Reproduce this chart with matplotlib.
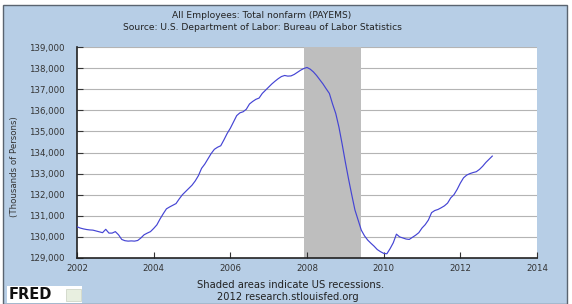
import matplotlib
matplotlib.use("Agg")
import matplotlib.pyplot as plt
from matplotlib.patches import Rectangle
import numpy as np

# Monthly values, Jan 2002 .. Nov 2012 (thousands of persons)
start_year = 2002
payems = [
    130480, 130420, 130380, 130350, 130330, 130320, 130280, 130240, 130200, 130360, 130180, 130180,
    130250, 130100, 129880, 129820, 129800, 129810, 129800, 129830, 129950, 130100, 130180, 130250,
    130400, 130570, 130850, 131100, 131330, 131420, 131500, 131580, 131800, 132000, 132150, 132300,
    132450, 132650, 132900, 133250, 133450, 133700, 133950, 134150, 134250, 134320, 134600, 134900,
    135150, 135450, 135750, 135880, 135930, 136050, 136300, 136420, 136520, 136580, 136800, 136950,
    137100, 137250, 137380, 137500, 137600, 137650, 137620, 137630, 137700, 137800, 137900, 137980,
    138030, 137950, 137820, 137650, 137450, 137250, 137020, 136800, 136300, 135850, 135200, 134400,
    133550, 132750, 132000, 131280, 130800, 130320, 130050, 129850, 129700, 129560, 129400, 129300,
    129220, 129200, 129440, 129720, 130130, 130000, 129950, 129900, 129880, 129980, 130080, 130200,
    130420, 130580, 130800, 131150, 131250, 131300, 131380, 131470, 131600, 131850, 132000, 132250,
    132550, 132800, 132930, 133000, 133050, 133090, 133200, 133350, 133530, 133680, 133830,
]
recession = (2007 + 11 / 12, 2009 + 5 / 12)
x_ticks = [2002, 2004, 2006, 2008, 2010, 2012, 2014]
y_ticks = list(range(129000, 139001, 1000))

W, H = 572, 304
fig = plt.figure(figsize=(W / 100, H / 100), dpi=100)
fig.patch.set_facecolor("white")

bg = "#b7cee6"
fig.patches.append(Rectangle((2.5 / W, 0), (567 - 2.5) / W, (H - 4.5) / H,
                             transform=fig.transFigure, facecolor=bg,
                             edgecolor="#5a6470", linewidth=1.0, zorder=-10))

ax = fig.add_axes([77 / W, (H - 258) / H, 460 / W, 211 / H])
ax.set_zorder(5)
ax.set_facecolor("white")

t = [start_year + i / 12 for i in range(len(payems))]

ax.axvspan(recession[0], recession[1], color="#bebebe", zorder=1, lw=0)
ax.plot(t, payems, color="#4444d4", lw=0.85, zorder=3)

ax.set_xlim(2002, 2014)
ax.set_ylim(129000, 139000)
ax.set_xticks(x_ticks)
ax.set_xticklabels([str(v) for v in x_ticks])
ax.set_yticks(y_ticks)
ax.set_yticklabels([f"{v:,}" for v in y_ticks])

for v in y_ticks[1:]:
    ax.axhline(v, color="#b4b4b4", lw=0.8, zorder=0.5)

for s in ["top", "right"]:
    ax.spines[s].set_visible(False)
for s in ["left", "bottom"]:
    ax.spines[s].set_color("#222222")
    ax.spines[s].set_linewidth(1.2)

ax.tick_params(axis="both", direction="in", length=4, width=0.8, color="#333333",
               labelsize=6.2, labelcolor="#333333")
ax.tick_params(axis="y", pad=9)
ax.tick_params(axis="x", pad=4)

fs = 6.6
fig.text(262 / W, 1 - 15 / H, "All Employees: Total nonfarm (PAYEMS)",
         ha="center", va="center", fontsize=fs, color="#222222")
fig.text(262 / W, 1 - 27 / H, "Source: U.S. Department of Labor: Bureau of Labor Statistics",
         ha="center", va="center", fontsize=fs, color="#222222")
fig.text(15 / W, 1 - 167 / H, "(Thousands of Persons)", rotation=90,
         ha="center", va="center", fontsize=6.2, color="#333333")
fig.text(291 / W, 1 - 285.5 / H, "Shaded areas indicate US recessions.",
         ha="center", va="center", fontsize=7.2, color="#222222")
fig.text(288 / W, 1 - 296.5 / H, "2012 research.stlouisfed.org",
         ha="center", va="center", fontsize=7.1, color="#222222")

# FRED logo
fig.patches.append(Rectangle((7 / W, 1 - 303 / H), 75 / W, 17 / H,
                             transform=fig.transFigure, facecolor="white",
                             edgecolor="none", zorder=1))
fig.text(9 / W, 1 - 294.5 / H, "FRED", ha="left", va="center", fontsize=10.5,
         fontweight="bold", color="#111111", zorder=2)
fig.patches.append(Rectangle((66 / W, 1 - 301 / H), 15 / W, 12 / H,
                             transform=fig.transFigure, facecolor="#e8efe0",
                             edgecolor="#c8d0c0", linewidth=0.5, zorder=2))

fig.savefig("out.png", dpi=100, facecolor=fig.get_facecolor())
